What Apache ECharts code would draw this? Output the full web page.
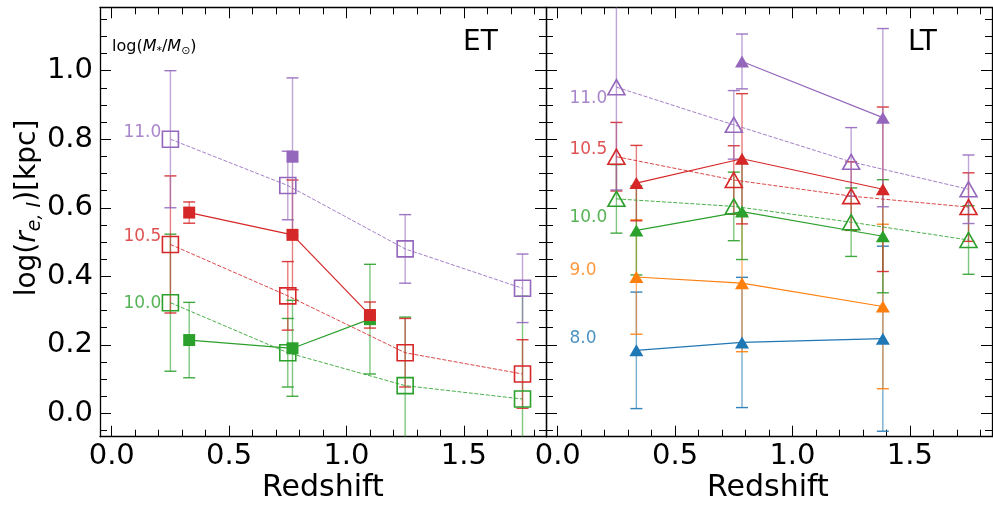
<!DOCTYPE html>
<html>
<head>
<meta charset="utf-8">
<script src="https://cdn.jsdelivr.net/npm/echarts@6/dist/echarts.min.js"></script>
<style>
  html, body { margin: 0; padding: 0; background: #fff; }
  #chart { width: 993px; height: 509px; }
</style>
</head>
<body>
<div id="chart"></div>
<script>
// ---- redshift bins ----
const etOpenZ = [0.25, 0.75, 1.25, 1.75];
const etFillZ = [0.33, 0.77, 1.10];
const ltOpenZ = [0.25, 0.75, 1.25, 1.75];
const ltFillZ = [0.335, 0.785, 1.385];

// ---- ET sample (squares): log r_e and 1-sigma errors ----
const etOpen110 = [0.800, 0.665, 0.480, 0.365];
const etOpen110Err = [0.20, 0.10, 0.10, 0.10];
const etOpen105 = [0.493, 0.343, 0.177, 0.115];
const etOpen105Err = [0.20, 0.10, 0.10, 0.10];
const etOpen100 = [0.323, 0.177, 0.081, 0.042];
const etOpen100Err = [0.20, 0.10, 0.20, 0.30];

const etFill110 = [null, 0.749, null];
const etFill110Err = [null, 0.23, null];
const etFill105 = [0.586, 0.521, 0.287];
const etFill105Err = [0.031, 0.16, 0.038];
const etFill100 = [0.214, 0.190, 0.275];
const etFill100Err = [0.11, 0.14, 0.16];

// ---- LT sample (triangles) ----
const ltOpen110 = [0.952, 0.842, 0.734, 0.654];
const ltOpen110Err = [0.30, 0.10, 0.10, 0.10];
const ltOpen105 = [0.749, 0.681, 0.634, 0.602];
const ltOpen105Err = [0.10, 0.10, 0.10, 0.10];
const ltOpen100 = [0.626, 0.604, 0.558, 0.506];
const ltOpen100Err = [0.10, 0.10, 0.10, 0.10];

const ltFill110 = [null, 1.027, 0.863];
const ltFill110Err = [null, 0.08, 0.26];
const ltFill105 = [0.672, 0.743, 0.654];
const ltFill105Err = [0.11, 0.19, 0.24];
const ltFill100 = [0.534, 0.589, 0.517];
const ltFill100Err = [0.13, 0.14, 0.165];
const ltFill90 = [0.398, 0.380, 0.312];
const ltFill90Err = [0.167, 0.20, 0.24];
const ltFill80 = [0.184, 0.207, 0.218];
const ltFill80Err = [0.17, 0.19, 0.27];

// ---- mass annotations ----
const etMassText = ['11.0', '10.5', '10.0'];
const etMassY = [0.818, 0.517, 0.321];
const ltMassText = ['11.0', '10.5', '10.0', '9.0', '8.0'];
const ltMassY = [0.920, 0.769, 0.570, 0.418, 0.217];
const massTextZ = 0.05;

// ---- axis ticks ----
const xMajor = [0.0, 0.5, 1.0, 1.5];
const yMajor = [0.0, 0.2, 0.4, 0.6, 0.8, 1.0];

const X_MIN = -0.05, X_MAX = 1.85;
const Y_MIN = -0.068, Y_MAX = 1.185;

const C = {
  blue: '#1f77b4', orange: '#ff7f0e', green: '#2ca02c', red: '#d62728', purple: '#9467bd'
};
const FONT = 'DejaVu Sans';

function rgba(hex, a) {
  const n = parseInt(hex.slice(1), 16);
  return 'rgba(' + ((n >> 16) & 255) + ',' + ((n >> 8) & 255) + ',' + (n & 255) + ',' + a + ')';
}

function minorValues(lo, hi, step, majors) {
  const out = [];
  for (let i = Math.ceil(lo / step); i * step <= hi + 1e-9; i++) {
    const v = Math.round(i * step * 1000) / 1000;
    if (!majors.some(m => Math.abs(m - v) < 1e-6)) out.push(v);
  }
  return out;
}
const xMinor = minorValues(X_MIN, X_MAX, 0.1, xMajor);
const yMinor = minorValues(Y_MIN, Y_MAX, 0.05, yMajor);

const TICK = { color: '#000', width: 1 };

function xAxesFor(grid, withLabels) {
  const base = { gridIndex: grid, type: 'value', min: X_MIN, max: X_MAX, splitLine: { show: false } };
  return [
    Object.assign({}, base, {
      position: 'bottom',
      axisLine: { show: true, onZero: false, lineStyle: { color: '#000', width: 1.3 } },
      axisTick: { show: true, inside: true, length: 11, customValues: xMajor, lineStyle: TICK },
      axisLabel: {
        show: withLabels, customValues: xMajor, margin: 5,
        formatter: v => v.toFixed(1), color: '#000', fontSize: 29, fontFamily: FONT
      }
    }),
    Object.assign({}, base, {
      position: 'bottom',
      axisLine: { show: false, onZero: false },
      axisTick: { show: true, inside: true, length: 7, customValues: xMinor, lineStyle: TICK },
      axisLabel: { show: false }
    }),
    Object.assign({}, base, {
      position: 'top',
      axisLine: { show: true, onZero: false, lineStyle: { color: '#000', width: 1.3 } },
      axisTick: { show: true, inside: true, length: 11, customValues: xMajor, lineStyle: TICK },
      axisLabel: { show: false }
    }),
    Object.assign({}, base, {
      position: 'top',
      axisLine: { show: false, onZero: false },
      axisTick: { show: true, inside: true, length: 7, customValues: xMinor, lineStyle: TICK },
      axisLabel: { show: false }
    })
  ];
}

function yAxesFor(grid, withLabels) {
  const base = { gridIndex: grid, type: 'value', min: Y_MIN, max: Y_MAX, splitLine: { show: false } };
  return [
    Object.assign({}, base, {
      position: 'left',
      axisLine: { show: true, onZero: false, lineStyle: { color: '#000', width: 1.3 } },
      axisTick: { show: true, inside: true, length: 11, customValues: yMajor, lineStyle: TICK },
      axisLabel: {
        show: withLabels, customValues: yMajor, margin: 7,
        formatter: v => v.toFixed(1), color: '#000', fontSize: 29, fontFamily: FONT
      }
    }),
    Object.assign({}, base, {
      position: 'left',
      axisLine: { show: false, onZero: false },
      axisTick: { show: true, inside: true, length: 7, customValues: yMinor, lineStyle: TICK },
      axisLabel: { show: false }
    }),
    Object.assign({}, base, {
      position: 'right',
      axisLine: { show: true, onZero: false, lineStyle: { color: '#000', width: 1.3 } },
      axisTick: { show: true, inside: true, length: 11, customValues: yMajor, lineStyle: TICK },
      axisLabel: { show: false }
    }),
    Object.assign({}, base, {
      position: 'right',
      axisLine: { show: false, onZero: false },
      axisTick: { show: true, inside: true, length: 7, customValues: yMinor, lineStyle: TICK },
      axisLabel: { show: false }
    })
  ];
}

// One group of points: a marker line plus its vertical error bars
const groups = [
  // ET panel
  { panel: 0, color: C.green,  z: etOpenZ, y: etOpen100, e: etOpen100Err, open: true,  sym: 'rect' },
  { panel: 0, color: C.red,    z: etOpenZ, y: etOpen105, e: etOpen105Err, open: true,  sym: 'rect' },
  { panel: 0, color: C.purple, z: etOpenZ, y: etOpen110, e: etOpen110Err, open: true,  sym: 'rect' },
  { panel: 0, color: C.green,  z: etFillZ, y: etFill100, e: etFill100Err, open: false, sym: 'rect' },
  { panel: 0, color: C.red,    z: etFillZ, y: etFill105, e: etFill105Err, open: false, sym: 'rect' },
  { panel: 0, color: C.purple, z: etFillZ, y: etFill110, e: etFill110Err, open: false, sym: 'rect' },
  // LT panel
  { panel: 1, color: C.green,  z: ltOpenZ, y: ltOpen100, e: ltOpen100Err, open: true,  sym: 'triangle' },
  { panel: 1, color: C.red,    z: ltOpenZ, y: ltOpen105, e: ltOpen105Err, open: true,  sym: 'triangle' },
  { panel: 1, color: C.purple, z: ltOpenZ, y: ltOpen110, e: ltOpen110Err, open: true,  sym: 'triangle' },
  { panel: 1, color: C.blue,   z: ltFillZ, y: ltFill80,  e: ltFill80Err,  open: false, sym: 'triangle' },
  { panel: 1, color: C.orange, z: ltFillZ, y: ltFill90,  e: ltFill90Err,  open: false, sym: 'triangle' },
  { panel: 1, color: C.green,  z: ltFillZ, y: ltFill100, e: ltFill100Err, open: false, sym: 'triangle' },
  { panel: 1, color: C.red,    z: ltFillZ, y: ltFill105, e: ltFill105Err, open: false, sym: 'triangle' },
  { panel: 1, color: C.purple, z: ltFillZ, y: ltFill110, e: ltFill110Err, open: false, sym: 'triangle' }
];

function symbolSize(g) {
  if (g.sym === 'rect') return g.open ? 16 : 12;
  return g.open ? [17, 15] : [14, 12];
}

function errorRenderer(color) {
  const stem = rgba(color, 0.6);
  const cap = rgba(color, 0.9);
  return function (params, api) {
    const x = api.value(0), y = api.value(1), e = api.value(2);
    const hi = api.coord([x, y + e]);
    const lo = api.coord([x, y - e]);
    const cs = params.coordSys;
    const top = Math.max(hi[1], cs.y), bot = Math.min(lo[1], cs.y + cs.height);
    const half = 6;
    const kids = [{
      type: 'line', shape: { x1: hi[0], y1: top, x2: hi[0], y2: bot },
      style: { stroke: stem, lineWidth: 1.4 }
    }];
    if (hi[1] >= cs.y) kids.push({
      type: 'line', shape: { x1: hi[0] - half, y1: hi[1], x2: hi[0] + half, y2: hi[1] },
      style: { stroke: cap, lineWidth: 1.4 }
    });
    if (lo[1] <= cs.y + cs.height) kids.push({
      type: 'line', shape: { x1: lo[0] - half, y1: lo[1], x2: lo[0] + half, y2: lo[1] },
      style: { stroke: cap, lineWidth: 1.4 }
    });
    return { type: 'group', children: kids };
  };
}

const series = [];
groups.forEach(g => {
  const pts = [], errs = [];
  g.z.forEach((zv, i) => {
    if (g.y[i] === null) return;
    pts.push([zv, g.y[i]]);
    errs.push([zv, g.y[i], g.e[i]]);
  });
  const ax = g.panel * 4;
  series.push({
    type: 'custom', xAxisIndex: ax, yAxisIndex: ax, z: 2,
    renderItem: errorRenderer(g.color), data: errs,
    encode: { x: 0, y: 1 }, silent: true
  });
  series.push({
    type: 'line', xAxisIndex: ax, yAxisIndex: ax, z: 3, data: pts,
    symbol: g.sym, symbolSize: symbolSize(g), showSymbol: true,
    lineStyle: g.open
      ? { color: rgba(g.color, 0.85), width: 1, type: [4, 1.7] }
      : { color: g.color, width: 1.2 },
    itemStyle: g.open
      ? { color: 'rgba(0,0,0,0)', borderColor: g.color, borderWidth: 1.6 }
      : { color: g.color, borderColor: g.color, borderWidth: 0 },
    emphasis: { disabled: true }, silent: true
  });
});

// mass annotations as text anchored at data coordinates
function massSeries(panel, texts, ys, colors) {
  const ax = panel * 4;
  return {
    type: 'scatter', xAxisIndex: ax, yAxisIndex: ax, z: 4, symbolSize: 0, silent: true,
    data: texts.map((t, i) => ({ value: [massTextZ, ys[i]], name: t,
      label: { color: colors[i] } })),
    label: {
      show: true, position: 'right', distance: 0, formatter: '{b}',
      fontSize: 17, fontFamily: FONT, verticalAlign: 'middle'
    }
  };
}
series.push(massSeries(0, etMassText, etMassY, [C.purple, C.red, C.green]));
series.push(massSeries(1, ltMassText, ltMassY, [C.purple, C.red, C.green, C.orange, C.blue]));

const chart = echarts.init(document.getElementById('chart'), null, { renderer: 'canvas' });
chart.setOption({
  animation: false,
  backgroundColor: '#fff',
  grid: [
    { left: 100, top: 7.3, width: 446, height: 429.4, outerBoundsMode: 'none', containLabel: false },
    { left: 546, top: 7.3, width: 446, height: 429.4, outerBoundsMode: 'none', containLabel: false }
  ],
  xAxis: xAxesFor(0, true).concat(xAxesFor(1, true)),
  yAxis: yAxesFor(0, true).concat(yAxesFor(1, false)),
  series: series,
  graphic: [
    {
      type: 'text', x: 28, y: 208, rotation: Math.PI / 2, silent: true,
      style: {
        text: '{n|log(}{i|r}{s|e, I}{n|)[kpc]}',
        align: 'center', verticalAlign: 'middle', fill: '#000',
        rich: {
          n: { fontSize: 28, fontFamily: FONT, lineHeight: 34, fill: '#000' },
          i: { fontSize: 28, fontFamily: FONT, fontStyle: 'italic', lineHeight: 34, fill: '#000' },
          s: { fontSize: 19, fontFamily: FONT, fontStyle: 'italic', lineHeight: 20,
               verticalAlign: 'bottom', fill: '#000' }
        }
      }
    },
    { type: 'text', x: 323, y: 488, silent: true,
      style: { text: 'Redshift', font: '30px "DejaVu Sans"', fill: '#000', align: 'center', verticalAlign: 'middle' } },
    { type: 'text', x: 768, y: 488, silent: true,
      style: { text: 'Redshift', font: '30px "DejaVu Sans"', fill: '#000', align: 'center', verticalAlign: 'middle' } },
    { type: 'text', x: 463, y: 43, silent: true,
      style: { text: 'ET', font: '28px "DejaVu Sans"', fill: '#000', align: 'left', verticalAlign: 'middle' } },
    { type: 'text', x: 908, y: 43, silent: true,
      style: { text: 'LT', font: '28px "DejaVu Sans"', fill: '#000', align: 'left', verticalAlign: 'middle' } },
    {
      type: 'text', x: 112, y: 47, silent: true,
      style: {
        text: '{n|log(}{i|M}{s|*}{n|/}{i|M}{s|⊙}{n|)}',
        align: 'left', verticalAlign: 'middle', fill: '#000',
        rich: {
          n: { fontSize: 16, fontFamily: FONT, lineHeight: 20, fill: '#000' },
          i: { fontSize: 16, fontFamily: FONT, fontStyle: 'italic', lineHeight: 20, fill: '#000' },
          s: { fontSize: 11, fontFamily: FONT, lineHeight: 12, verticalAlign: 'bottom', fill: '#000' }
        }
      }
    }
  ]
});
</script>
</body>
</html>
